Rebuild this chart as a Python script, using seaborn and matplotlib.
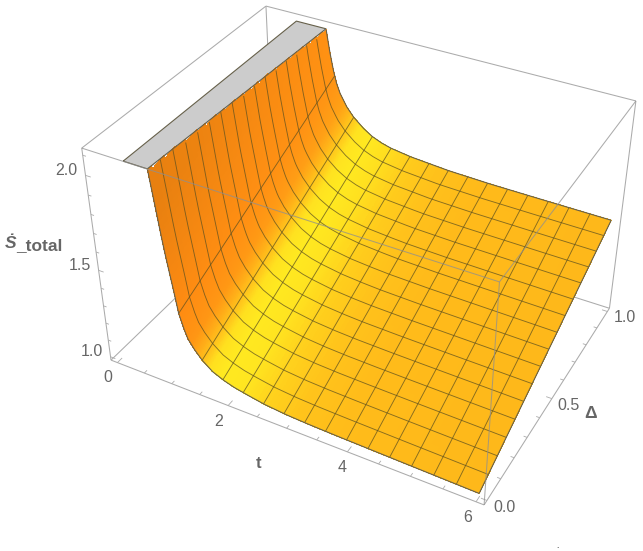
import numpy as np
import matplotlib
matplotlib.use("Agg")
import matplotlib.pyplot as plt
import seaborn as sns
from mpl_toolkits.mplot3d.art3d import Poly3DCollection

WIDTH, HEIGHT = 643, 551

t_front = [0.5, 0.9, 1.0, 1.05, 1.12, 1.1875, 1.25, 1.31, 1.4, 1.53, 1.7, 1.875, 2.05, 2.22, 2.56, 2.91, 3.25, 3.6, 4.5, 5.3, 6.0]
z_front = [3.3, 2.113, 1.83, 1.70, 1.55, 1.39, 1.315, 1.26, 1.215, 1.165, 1.12, 1.094, 1.075, 1.063, 1.042, 1.03, 1.024, 1.02, 1.013, 1.008, 1.003]
t_back = [0.5, 1.042, 1.1, 1.163, 1.22, 1.281, 1.4, 1.523, 1.7, 1.862, 2.03, 2.199, 2.563, 3.221, 3.922, 4.492, 6.0]
z_back = [3.4, 2.113, 2.0, 1.899, 1.83, 1.78, 1.715, 1.668, 1.62, 1.587, 1.565, 1.55, 1.533, 1.517, 1.51, 1.508, 1.505]

t_start, t_end = 0.5, 6.0
z_clip = 2.113
clip_t_front, clip_t_back = 0.9, 1.042

# plot box, 2% larger than the plot range
box_t = (-0.12, 6.12)
box_d = (-0.02, 1.02)
box_z = (0.98, 2.135)

t_ticks = np.arange(0, 6.01, 0.5)
d_ticks = np.arange(0, 1.01, 0.1)
z_ticks = np.arange(1.0, 2.11, 0.1)

shade_t = [0.5, 0.95, 1.19, 1.35, 1.5, 1.65, 1.85, 2.2, 2.6, 3.1, 3.8, 6.0]
shade_front = ["#E57E10", "#E88010", "#FF8C12", "#FF9614", "#FFB81A", "#FFE01F", "#FFE920", "#FFE620", "#FFD21D", "#FFC41B", "#FFBC1A", "#FEB81A"]
shade_back = ["#FF8C12", "#FF8E12", "#FF9414", "#FFA216", "#FFC41B", "#FFE320", "#FFE920", "#FFDE1F", "#FFCB1C", "#FFC11B", "#FFBA1A", "#FEB81A"]

# where the box corners land in the image: (t, delta, z) -> pixel
corners = [
    ((box_t[0], box_d[0], box_z[0]), (111, 360)),
    ((box_t[1], box_d[0], box_z[0]), (484.3, 505)),
    ((box_t[1], box_d[1], box_z[0]), (609.3, 308.3)),
    ((box_t[0], box_d[0], box_z[1]), (81.7, 148.3)),
    ((box_t[0], box_d[1], box_z[1]), (266, 6)),
    ((box_t[1], box_d[1], box_z[1]), (636, 101)),
    ((box_t[1], box_d[0], box_z[1]), (499.3, 281.7)),
]


def fit_camera(pairs):
    rows = []
    for (x, y, z), (px, py) in pairs:
        py = HEIGHT - py
        rows.append([x, y, z, 1, 0, 0, 0, 0, -px * x, -px * y, -px * z, -px])
        rows.append([0, 0, 0, 0, x, y, z, 1, -py * x, -py * y, -py * z, -py])
    _, _, vt = np.linalg.svd(np.array(rows, dtype=float))
    cam = vt[-1].reshape(3, 4)
    return cam / (cam[2] @ np.array([3, 0.5, 1.5, 1]))


camera = fit_camera(corners)

sns.set_theme(style="white")
plt.rcParams["font.family"] = ["Liberation Sans", "DejaVu Sans"]

fig = plt.figure(figsize=(WIDTH / 100, HEIGHT / 100), dpi=100, facecolor="white")
ax = fig.add_axes([0, 0, 1, 1], projection="3d", computed_zorder=False)
ax.set_axis_off()
ax.set_xlim(*box_t)
ax.set_ylim(*box_d)
ax.set_zlim(*box_z)


def image_proj():
    # axes 2d view coords come from the pixel camera through transData
    to_view = ax.transData.inverted().get_matrix()
    cam = to_view @ camera
    return np.array([cam[0], cam[1], [0, 0, 0, -1], cam[2]])


ax.get_proj = image_proj


def surface_z(t, d):
    return (1 - d) * np.interp(t, t_front, z_front) + d * np.interp(t, t_back, z_back)


def line3d(ts, ds, zs, **kw):
    ax.plot(ts, ds, zs, clip_on=False, solid_capstyle="butt", **kw)


box_style = dict(color="#ABABAB", lw=0.75)
t0, t1 = box_t
d0, d1 = box_d
z0, z1 = box_z

# edges behind the surface
back_edges = [
    ((t0, d0, z0), (t1, d0, z0)), ((t1, d0, z0), (t1, d1, z0)), ((t1, d1, z0), (t0, d1, z0)),
    ((t0, d1, z0), (t0, d0, z0)), ((t0, d0, z0), (t0, d0, z1)), ((t0, d1, z0), (t0, d1, z1)),
    ((t1, d1, z0), (t1, d1, z1)), ((t0, d0, z1), (t0, d1, z1)), ((t0, d1, z1), (t1, d1, z1)),
]
for a, b in back_edges:
    line3d(*zip(a, b), zorder=1, **box_style)

# tick marks
tick_style = dict(color="#ABABAB", lw=0.6, zorder=1)
for i, v in enumerate(t_ticks):
    size = 0.026 if i % 4 == 0 else 0.015
    line3d([v, v], [d0, d0 + size], [z0, z0], **tick_style)
for i, v in enumerate(d_ticks):
    size = 0.09 if i % 5 == 0 else 0.055
    line3d([t1, t1 - size], [v, v], [z0, z0], **tick_style)
for i, v in enumerate(z_ticks):
    size = 0.09 if i % 5 == 0 else 0.055
    line3d([t0, t0 + size], [d0, d0], [v, v], **tick_style)

# clipped top of the surface, runs a little under the surface so no gap shows
gray_top = Poly3DCollection(
    [[(t_start, 0, z_clip), (t_start, 1, z_clip), (clip_t_back + 0.02, 1, z_clip), (clip_t_front + 0.02, 0, z_clip)]],
    facecolors="#CCCCCC", edgecolors="none", zorder=2, clip_on=False,
)
ax.add_collection3d(gray_top)

# surface, finer rows where it bends
t_grid = np.concatenate([np.linspace(t_start, 2.4, 280), np.linspace(2.4, t_end, 60)[1:]])
d_grid = np.linspace(0, 1, 49)
T, D = np.meshgrid(t_grid, d_grid, indexing="ij")
Z = surface_z(T, D)

front_cmap = sns.blend_palette(shade_front, as_cmap=True)
back_cmap = sns.blend_palette(shade_back, as_cmap=True)
pos = np.interp(T, shade_t, np.linspace(0, 1, len(shade_t)))
colors = (1 - D[..., None]) * front_cmap(pos) + D[..., None] * back_cmap(pos)
colors[..., 3] = np.where(Z >= z_clip, 0.0, 1.0)

surf = ax.plot_surface(
    T, D, np.minimum(Z, z_clip), facecolors=colors, rstride=1, cstride=1,
    linewidth=0, antialiased=False, shade=False, zorder=3,
)
surf.set_clip_on(False)

# mesh, 15 lines each way
mesh_style = dict(color="#5E5120", lw=0.65, alpha=0.75, zorder=4)
for i in range(1, 16):
    d = i / 16
    zs = surface_z(t_grid, d)
    line3d(t_grid, np.full_like(t_grid, d), np.where(zs > z_clip, np.nan, zs), **mesh_style)
    t = t_start + i * (t_end - t_start) / 16
    zs = surface_z(t, d_grid)
    line3d(np.full_like(d_grid, t), d_grid, np.where(zs > z_clip, np.nan, zs), **mesh_style)

# outline of the surface
edge_style = dict(color="#66604A", lw=0.8, zorder=5)
for d in (0.0, 1.0):
    zs = surface_z(t_grid, d)
    line3d(t_grid, np.full_like(t_grid, d), np.where(zs > z_clip, np.nan, zs), **edge_style)
line3d(np.full_like(d_grid, t_end), d_grid, surface_z(t_end, d_grid), **edge_style)
line3d([t_start, t_start, clip_t_back, clip_t_front, t_start], [0, 1, 1, 0, 0], [z_clip] * 5, **edge_style)

# edges in front of the surface
front_edges = [((t0, d0, z1), (t1, d0, z1)), ((t1, d0, z1), (t1, d1, z1)), ((t1, d0, z1), (t1, d0, z0))]
for a, b in front_edges:
    line3d(*zip(a, b), zorder=6, color="#8F8F8F", lw=0.75, alpha=0.75)

label_color = "#666666"


def put(x, y, s, **kw):
    kw.setdefault("ha", "center")
    kw.setdefault("va", "center")
    kw.setdefault("color", label_color)
    kw.setdefault("fontsize", 11.5)
    fig.text(x / WIDTH, 1 - y / HEIGHT, s, **kw)


tick_labels = [
    (66, 170, "2.0"), (80, 265, "1.5"), (92, 351, "1.0"),
    (108, 377, "0"), (219, 421, "2"), (342, 467, "4"), (468, 517, "6"),
    (504, 507, "0.0"), (569, 405, "0.5"), (625, 317, "1.0"),
]
for x, y, s in tick_labels:
    put(x, y, s)

put(259, 464, "t", fontweight="bold", fontsize=12)
put(591, 414, "Δ", fontweight="bold", fontsize=12.5)
put(16.5, 243, "Ṡ", fontweight="bold", style="italic", ha="right", fontsize=12.5)
put(16.5, 246, "_total", fontweight="bold", ha="left", fontsize=12.5)
put(557, 546, ".", color="black", fontsize=6)

fig.savefig("out.png", dpi=100, facecolor="white")
plt.close(fig)
